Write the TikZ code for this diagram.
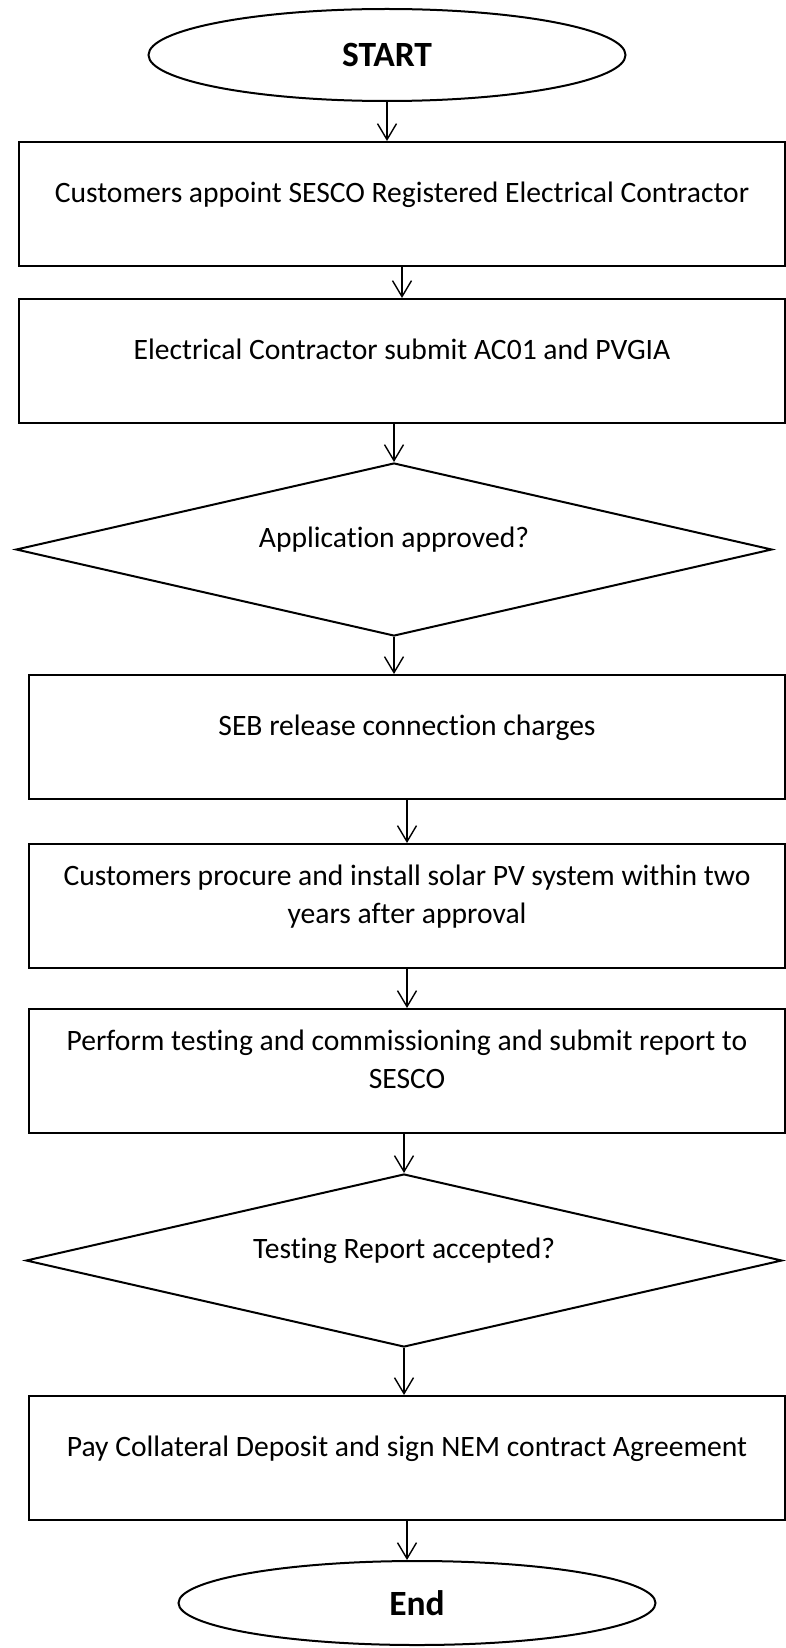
\documentclass[tikz,border=0pt]{standalone}
\usepackage{fontspec}
\setmainfont{Carlito}[Ligatures=NoCommon]
\usetikzlibrary{positioning, shapes.geometric, arrows.meta}

\begin{document}
\begin{tikzpicture}[->, >={Straight Barb[length=16pt, width=19pt]}, line width=1.4pt,
        main node/.style={rectangle, draw, line width=2pt, minimum width=756pt,
        minimum height=124pt, align=center, text depth=24pt,
        font=\fontsize{29.6}{38}\selectfont},
        decision node/.style={diamond, draw, line width=2pt, aspect=4.4,
        minimum width=756pt, minimum height=173pt, text depth=24pt,
        font=\fontsize{29.6}{38}\selectfont},
        terminal node/.style={ellipse, draw, line width=2pt, minimum width=477pt,
        minimum height=92pt, font=\fontsize{35.5}{40}\selectfont\bfseries}]
        \fill[white, -] (0,0) rectangle (786pt,-1648pt);

        \node[terminal node] (start) at (387pt,-55pt) {START};
        \node[main node, minimum width=766pt, below = 39pt of start, xshift=15pt] (appoint) {Customers appoint SESCO Registered Electrical Contractor};
        \node[main node, minimum width=766pt, below = 31pt of appoint] (submit) {Electrical Contractor submit AC01 and PVGIA};
        \node[decision node, below = 38pt of submit, xshift=-8pt] (approved) {Application approved?};
        \node[main node, below = 37pt of approved, xshift=13pt] (release) {SEB release connection charges};
        \node[main node, below = 43pt of release] (install) {Customers procure and install solar PV system within two\\years after approval};
        \node[main node, below = 39pt of install] (testing) {Perform testing and commissioning and submit report to\\SESCO};
        \node[decision node, below = 39pt of testing, xshift=-3pt] (accepted) {Testing Report accepted?};
        \node[main node, below = 47pt of accepted, xshift=3pt] (deposit) {Pay Collateral Deposit and sign NEM contract Agreement};
        \node[terminal node, minimum height=84pt, below = 39pt of deposit, xshift=10pt] (stop) {End};

        \draw (start.south) -- (start.south |- appoint.north);
        \draw (appoint) -- (submit);
        \draw (submit.south -| approved.north) -- (approved.north);
        \draw (approved.south) -- (approved.south |- release.north);
        \draw (release) -- (install);
        \draw (install) -- (testing);
        \draw (testing.south -| accepted.north) -- (accepted.north);
        \draw (accepted.south) -- (accepted.south |- deposit.north);
        \draw (deposit.south) -- (deposit.south |- stop.north);
    \end{tikzpicture}
\end{document}
